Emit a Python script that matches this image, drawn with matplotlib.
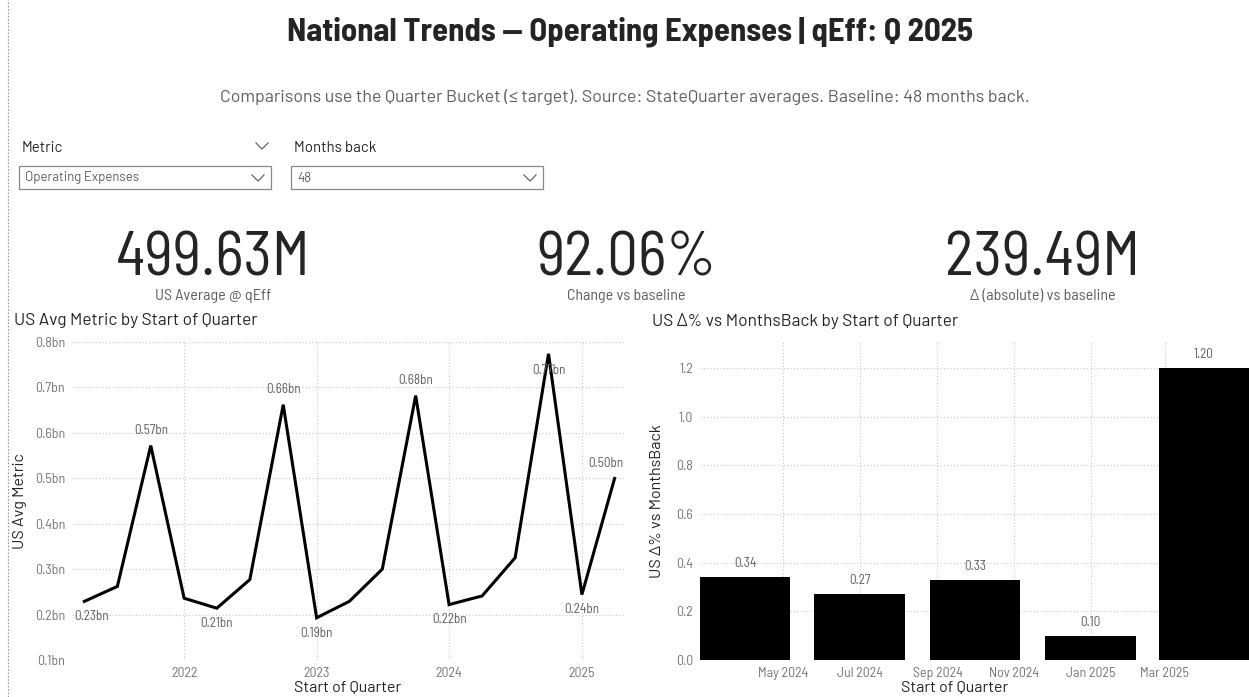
import datetime as dt
import matplotlib
matplotlib.use("Agg")
import matplotlib.pyplot as plt
import matplotlib.dates as mdates
from matplotlib.lines import Line2D
from matplotlib.patches import Rectangle

# ---- data ----
title = "National Trends \u2014 Operating Expenses | qEff: Q 2025"
subtitle = ("Comparisons use the Quarter Bucket (\u2264 target). Source: StateQuarter averages. "
            "Baseline: 48 months back.")
slicer_names = ["Metric", "Months back"]
slicer_values = ["Operating Expenses", "48"]

kpi_values = ["499.63M", "92.06%", "239.49M"]
kpi_labels = ["US Average @ qEff", "Change vs baseline", "\u0394 (absolute) vs baseline"]

quarters = ["2021-04-01", "2021-07-01", "2021-10-01",
            "2022-01-01", "2022-04-01", "2022-07-01", "2022-10-01",
            "2023-01-01", "2023-04-01", "2023-07-01", "2023-10-01",
            "2024-01-01", "2024-04-01", "2024-07-01", "2024-10-01",
            "2025-01-01", "2025-04-01"]
us_avg_bn = [0.229, 0.262, 0.572,
             0.236, 0.214, 0.277, 0.662,
             0.193, 0.229, 0.300, 0.682,
             0.222, 0.241, 0.325, 0.774,
             0.244, 0.4996]
labeled_points = [0, 2, 4, 6, 7, 10, 11, 14, 15, 16]

bar_quarters = ["2024-04-01", "2024-07-01", "2024-10-01", "2025-01-01", "2025-04-01"]
delta_pct = [0.34, 0.27, 0.33, 0.10, 1.20]
bar_ticks = ["2024-05-01", "2024-07-01", "2024-09-01", "2024-11-01", "2025-01-01", "2025-03-01"]

# ---- fonts / colours ----
DIN = ["Barlow", "Roboto", "DejaVu Sans"]
DIN_SEMI = ["Barlow Semi Condensed", "Barlow", "Roboto", "DejaVu Sans"]
DIN_COND = ["Barlow Semi Condensed", "Barlow Condensed", "Roboto Condensed", "DejaVu Sans"]
DARK = "#252423"
GREY = "#605E5C"
TICK = "#777777"
GRID = "#C8C8C8"

W, H = 1249, 697


def fx(px):
    return px / W


def fy(py):
    return 1 - py / H


fig = plt.figure(figsize=(W / 100, H / 100), dpi=100)
fig.patch.set_facecolor("white")

# dotted page border on the left
fig.add_artist(Line2D([fx(8), fx(8)], [0, 1], transform=fig.transFigure,
                      color="#999999", lw=0.8, ls=(0, (1.5, 1.5))))

# header
fig.text(fx(630), fy(32), title, ha="center", va="center", fontsize=23.5,
         fontweight="bold", family=DIN_SEMI, color=DARK)
fig.text(fx(625), fy(97), subtitle, ha="center", va="center", fontsize=12.8,
         family=DIN, color=GREY)


def chevron(cx, cy, w=12, h=6, color="#666666"):
    fig.add_artist(Line2D([fx(cx - w / 2), fx(cx), fx(cx + w / 2)],
                          [fy(cy - h / 2), fy(cy + h / 2), fy(cy - h / 2)],
                          transform=fig.transFigure, color=color, lw=0.9))


# slicers
for i, (nm, val) in enumerate(zip(slicer_names, slicer_values)):
    x0 = 19 + i * 272
    fig.text(fx(x0 + 3), fy(148), nm, ha="left", va="center", fontsize=10.8,
             family=DIN, color=DARK)
    fig.add_artist(Rectangle((fx(x0), fy(189)), fx(252), 23 / H, transform=fig.transFigure,
                             fill=False, edgecolor="#888888", lw=0.9))
    fig.text(fx(x0 + 6), fy(178), val, ha="left", va="center", fontsize=9.5,
             family=DIN, color=GREY)
    chevron(x0 + 239, 178)
chevron(262, 146)

# KPI cards
for cx, v, lab in zip([213, 626, 1043], kpi_values, kpi_labels):
    fig.text(fx(cx), fy(259), v, ha="center", va="center", fontsize=44,
             family=DIN_COND, color=DARK)
    fig.text(fx(cx), fy(296), lab, ha="center", va="center", fontsize=11.5,
             family=DIN_COND, color=GREY)

# ---- line chart ----
dates = [dt.datetime.strptime(d, "%Y-%m-%d") for d in quarters]
ax1 = fig.add_axes([fx(72), fy(660), fx(624) - fx(72), fy(342) - fy(660)])
ax1.plot(dates, us_avg_bn, color="black", lw=2.2, solid_joinstyle="miter")
ax1.set_xlim(dt.datetime(2021, 2, 26), dt.datetime(2025, 4, 27))
ax1.set_ylim(0.1, 0.8)
ax1.set_yticks([0.1, 0.2, 0.3, 0.4, 0.5, 0.6, 0.7, 0.8])
ax1.set_yticklabels([f"{t:.1f}bn" for t in ax1.get_yticks()])
ax1.xaxis.set_major_locator(mdates.YearLocator())
ax1.xaxis.set_major_formatter(mdates.DateFormatter("%Y"))
for i in labeled_points:
    v = us_avg_bn[i]
    peak = (i in (2, 6, 10, 14, 16))
    dy = 11 if peak else -11
    dx = 0
    if i == 14:
        dy = -12
    if i == 16:
        dx = -6
    if i == 0:
        dx = 5
    ax1.annotate(f"{v:.2f}bn", (dates[i], v), xytext=(dx, dy), textcoords="offset points",
                 ha="center", va="center", fontsize=9.5, color=GREY,
                 family=DIN_COND, annotation_clip=False)
ax1.set_xlabel("Start of Quarter", fontsize=11.5, color=DARK, family=DIN)
ax1.set_ylabel("US Avg Metric", fontsize=11.5, color=DARK, family=DIN)
ax1.xaxis.set_label_coords(0.5, -0.066)
ax1.yaxis.set_label_coords(-45 / 552, 0.5)
fig.text(fx(14), fy(321), "US Avg Metric by Start of Quarter", ha="left", va="center",
         fontsize=12.4, family=DIN, color=DARK)

# ---- bar chart ----
bdates = [dt.datetime.strptime(d, "%Y-%m-%d") for d in bar_quarters]
tdates = [dt.datetime.strptime(d, "%Y-%m-%d") for d in bar_ticks]
ax2 = fig.add_axes([fx(700), fy(660), 1 - fx(700), fy(342) - fy(660)])
bars = ax2.bar(bdates, delta_pct, width=72, color="black", zorder=3)
ax2.set_xlim(dt.datetime(2024, 2, 25), dt.datetime(2025, 5, 7))
ax2.set_ylim(0, 1.307)
ax2.set_yticks([0.0, 0.2, 0.4, 0.6, 0.8, 1.0, 1.2])
ax2.set_yticklabels([f"{t:.1f}" for t in ax2.get_yticks()])
ax2.set_xticks(tdates)
ax2.xaxis.set_major_formatter(mdates.DateFormatter("%b %Y"))
ax2.bar_label(bars, labels=[f"{v:.2f}" for v in delta_pct], padding=5, fontsize=9.5,
              color=GREY, family=DIN_COND)
ax2.set_xlabel("Start of Quarter", fontsize=11.5, color=DARK, family=DIN)
ax2.set_ylabel("US \u0394% vs MonthsBack", fontsize=11.5, color=DARK, family=DIN)
ax2.xaxis.set_label_coords((955 - 700) / 549, -0.066)
ax2.yaxis.set_label_coords(-36 / 549, 0.5)
fig.text(fx(652), fy(321), "US \u0394% vs MonthsBack by Start of Quarter", ha="left", va="center",
         fontsize=12.4, family=DIN, color=DARK)

for ax in (ax1, ax2):
    for s in ax.spines.values():
        s.set_visible(False)
    ax.grid(True, color=GRID, ls=(0, (1, 2)), lw=0.8, zorder=0)
    ax.set_axisbelow(True)
    ax.tick_params(length=0, labelsize=10, labelcolor=TICK, pad=5)
    for lab in ax.get_xticklabels() + ax.get_yticklabels():
        lab.set_family(DIN_COND)
    ax.set_facecolor("white")

fig.savefig("out.png", dpi=100)
